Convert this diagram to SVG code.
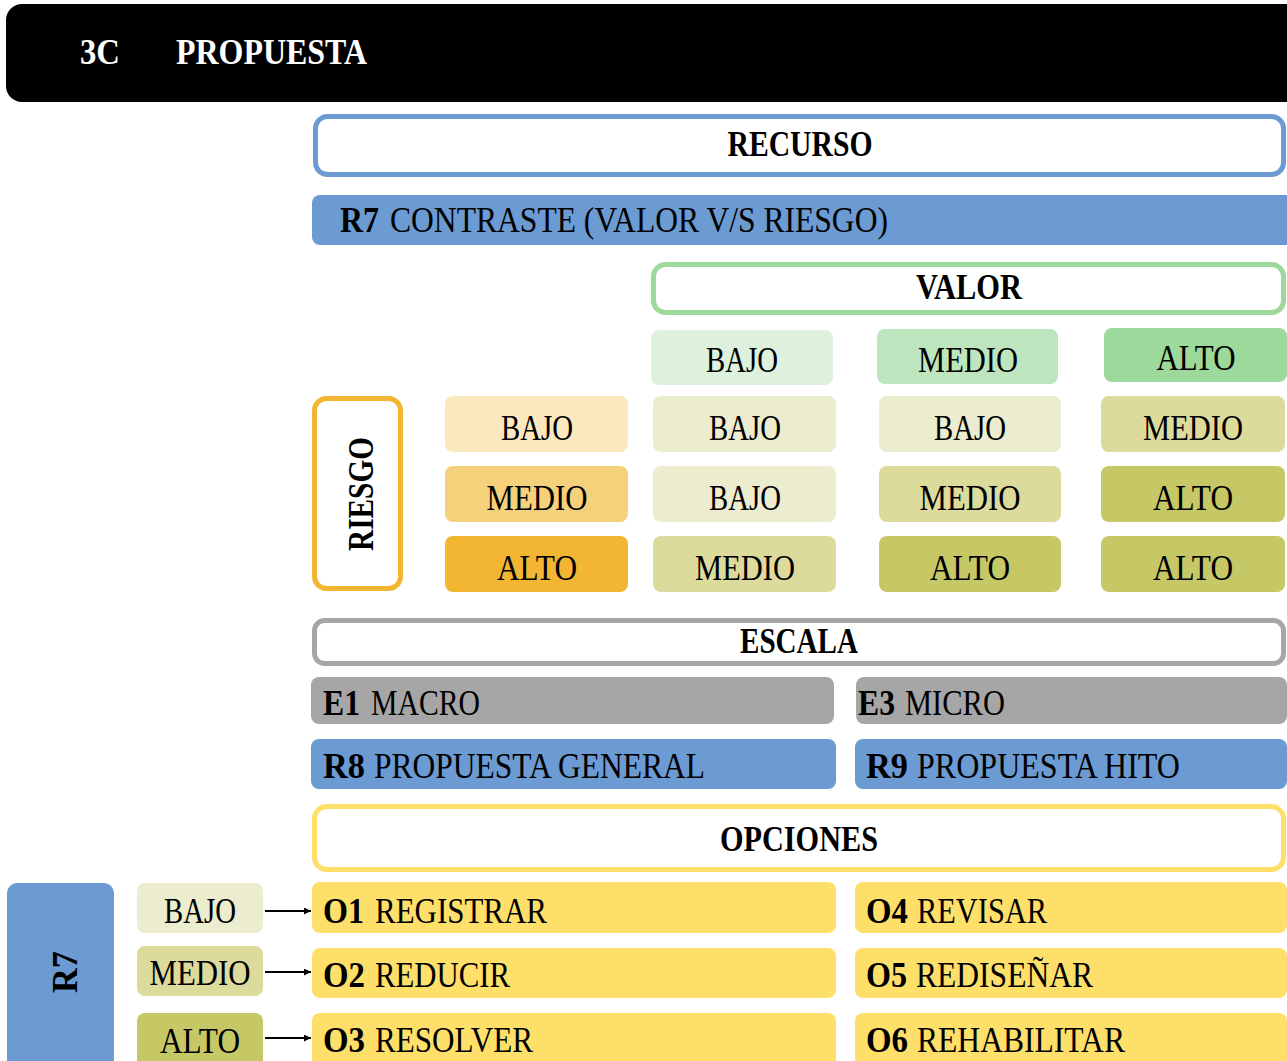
<svg xmlns="http://www.w3.org/2000/svg" width="1287" height="1061" viewBox="0 0 1287 1061">
<defs>
<style>
text{font-family:"Liberation Serif","Times New Roman",serif;font-size:35px;fill:#000}
.b{font-weight:bold}
.w{fill:#fff}
.c{text-anchor:middle}
.blue{fill:#6b9bd2}
.gray{fill:#a6a6a6}
.yel{fill:#fedf69}
.v1{fill:#ddf1dd}.v2{fill:#bde6be}.v3{fill:#9cd99a}
.r1{fill:#fce8be}.r2{fill:#f6d17b}.r3{fill:#f2b632}
.m1{fill:#ececce}.m2{fill:#dcdb9c}.m3{fill:#c6c866}
.out{fill:#fff;stroke-width:5}
</style>
<marker id="ah" viewBox="0 0 10 10" refX="10" refY="5" markerWidth="7" markerHeight="7" markerUnits="userSpaceOnUse" orient="auto"><path d="M0,0 L10,5 L0,10 z" fill="#000"/></marker>
</defs>
<rect width="1287" height="1061" fill="#fff"/>

<g id="header">
<rect x="6" y="4" width="1300" height="98" rx="16" fill="#000"/>
<text class="b w" x="80" y="64" textLength="40" lengthAdjust="spacingAndGlyphs">3C</text>
<text class="b w" x="176" y="64" textLength="191" lengthAdjust="spacingAndGlyphs">PROPUESTA</text>
</g>

<g id="recurso">
<rect class="out" x="315.5" y="116.5" width="968" height="58" rx="12" stroke="#6b9bd2"/>
<text class="b c" x="800" y="156" textLength="145" lengthAdjust="spacingAndGlyphs">RECURSO</text>
</g>

<g id="r7-contraste">
<rect class="blue" x="312" y="195" width="985" height="50" rx="8"/>
<text class="b" x="340" y="232" textLength="39" lengthAdjust="spacingAndGlyphs">R7</text>
<text x="390" y="232" textLength="498" lengthAdjust="spacingAndGlyphs">CONTRASTE (VALOR V/S RIESGO)</text>
</g>

<g id="valor">
<rect class="out" x="653.5" y="264.5" width="630" height="48" rx="12" stroke="#9cd99a"/>
<text class="b c" x="969" y="299" textLength="106" lengthAdjust="spacingAndGlyphs">VALOR</text>
</g>

<g id="valor-bajo"><rect class="v1" x="651" y="330" width="182" height="55" rx="8"/><text class="c" x="742" y="372" textLength="72" lengthAdjust="spacingAndGlyphs">BAJO</text></g>
<g id="valor-medio"><rect class="v2" x="877" y="329" width="181" height="55" rx="8"/><text class="c" x="968" y="372" textLength="100" lengthAdjust="spacingAndGlyphs">MEDIO</text></g>
<g id="valor-alto"><rect class="v3" x="1104" y="328" width="183" height="54" rx="8"/><text class="c" x="1196" y="370" textLength="79" lengthAdjust="spacingAndGlyphs">ALTO</text></g>

<g id="riesgo">
<rect class="out" x="314.5" y="398.5" width="86" height="190" rx="12" stroke="#f2b632"/>
<text class="b c" transform="translate(373,494) rotate(-90)" textLength="114" lengthAdjust="spacingAndGlyphs">RIESGO</text>
</g>

<g id="riesgo-bajo"><rect class="r1" x="445" y="396" width="183" height="56" rx="8"/><text class="c" x="537" y="440" textLength="72" lengthAdjust="spacingAndGlyphs">BAJO</text></g>
<g id="riesgo-medio"><rect class="r2" x="445" y="466" width="183" height="56" rx="8"/><text class="c" x="537" y="510" textLength="101" lengthAdjust="spacingAndGlyphs">MEDIO</text></g>
<g id="riesgo-alto"><rect class="r3" x="445" y="536" width="183" height="56" rx="8"/><text class="c" x="537" y="580" textLength="80" lengthAdjust="spacingAndGlyphs">ALTO</text></g>

<g id="m11"><rect class="m1" x="653" y="396" width="183" height="56" rx="8"/><text class="c" x="745" y="440" textLength="72" lengthAdjust="spacingAndGlyphs">BAJO</text></g>
<g id="m12"><rect class="m1" x="879" y="396" width="182" height="56" rx="8"/><text class="c" x="970" y="440" textLength="72" lengthAdjust="spacingAndGlyphs">BAJO</text></g>
<g id="m13"><rect class="m2" x="1101" y="396" width="184" height="56" rx="8"/><text class="c" x="1193" y="440" textLength="100" lengthAdjust="spacingAndGlyphs">MEDIO</text></g>
<g id="m21"><rect class="m1" x="653" y="466" width="183" height="56" rx="8"/><text class="c" x="745" y="510" textLength="72" lengthAdjust="spacingAndGlyphs">BAJO</text></g>
<g id="m22"><rect class="m2" x="879" y="466" width="182" height="56" rx="8"/><text class="c" x="970" y="510" textLength="101" lengthAdjust="spacingAndGlyphs">MEDIO</text></g>
<g id="m23"><rect class="m3" x="1101" y="466" width="184" height="56" rx="8"/><text class="c" x="1193" y="510" textLength="80" lengthAdjust="spacingAndGlyphs">ALTO</text></g>
<g id="m31"><rect class="m2" x="653" y="536" width="183" height="56" rx="8"/><text class="c" x="745" y="580" textLength="100" lengthAdjust="spacingAndGlyphs">MEDIO</text></g>
<g id="m32"><rect class="m3" x="879" y="536" width="182" height="56" rx="8"/><text class="c" x="970" y="580" textLength="80" lengthAdjust="spacingAndGlyphs">ALTO</text></g>
<g id="m33"><rect class="m3" x="1101" y="536" width="184" height="56" rx="8"/><text class="c" x="1193" y="580" textLength="80" lengthAdjust="spacingAndGlyphs">ALTO</text></g>

<g id="escala">
<rect class="out" x="314.5" y="620.5" width="969" height="43" rx="10" stroke="#a6a6a6"/>
<text class="b c" x="799" y="653" textLength="118" lengthAdjust="spacingAndGlyphs">ESCALA</text>
</g>

<g id="e1"><rect class="gray" x="311" y="677" width="523" height="47" rx="8"/>
<text class="b" x="323" y="715" textLength="37" lengthAdjust="spacingAndGlyphs">E1</text>
<text x="371" y="715" textLength="109" lengthAdjust="spacingAndGlyphs">MACRO</text></g>
<g id="e3"><rect class="gray" x="856" y="677" width="431" height="47" rx="8"/>
<text class="b" x="858" y="715" textLength="37" lengthAdjust="spacingAndGlyphs">E3</text>
<text x="905" y="715" textLength="100" lengthAdjust="spacingAndGlyphs">MICRO</text></g>
<g id="r8"><rect class="blue" x="311" y="739" width="525" height="50" rx="8"/>
<text class="b" x="323" y="778" textLength="42" lengthAdjust="spacingAndGlyphs">R8</text>
<text x="374" y="778" textLength="331" lengthAdjust="spacingAndGlyphs">PROPUESTA GENERAL</text></g>
<g id="r9"><rect class="blue" x="855" y="739" width="432" height="50" rx="8"/>
<text class="b" x="866" y="778" textLength="42" lengthAdjust="spacingAndGlyphs">R9</text>
<text x="917" y="778" textLength="263" lengthAdjust="spacingAndGlyphs">PROPUESTA HITO</text></g>

<g id="opciones">
<rect class="out" x="314.5" y="806.5" width="969" height="63" rx="12" stroke="#fedf69"/>
<text class="b c" x="799" y="851" textLength="158" lengthAdjust="spacingAndGlyphs">OPCIONES</text>
</g>

<g id="r7-side">
<rect class="blue" x="7" y="883" width="107" height="190" rx="10"/>
<text class="b c" transform="translate(77,972) rotate(-90)" textLength="42" lengthAdjust="spacingAndGlyphs">R7</text>
</g>

<g id="n-bajo"><rect class="m1" x="137" y="883" width="126" height="50" rx="8"/><text class="c" x="200" y="923" textLength="72" lengthAdjust="spacingAndGlyphs">BAJO</text></g>
<g id="n-medio"><rect class="m2" x="137" y="946" width="126" height="50" rx="8"/><text class="c" x="200" y="985" textLength="101" lengthAdjust="spacingAndGlyphs">MEDIO</text></g>
<g id="n-alto"><rect class="m3" x="137" y="1013" width="126" height="60" rx="8"/><text class="c" x="200" y="1053" textLength="80" lengthAdjust="spacingAndGlyphs">ALTO</text></g>

<g id="o1"><rect class="yel" x="312" y="882" width="524" height="51" rx="8"/>
<text class="b" x="323" y="923" textLength="41" lengthAdjust="spacingAndGlyphs">O1</text>
<text x="375" y="923" textLength="172" lengthAdjust="spacingAndGlyphs">REGISTRAR</text></g>
<g id="o2"><rect class="yel" x="312" y="948" width="524" height="50" rx="8"/>
<text class="b" x="323" y="987" textLength="42" lengthAdjust="spacingAndGlyphs">O2</text>
<text x="375" y="987" textLength="135" lengthAdjust="spacingAndGlyphs">REDUCIR</text></g>
<g id="o3"><rect class="yel" x="312" y="1013" width="524" height="60" rx="8"/>
<text class="b" x="323" y="1052" textLength="42" lengthAdjust="spacingAndGlyphs">O3</text>
<text x="375" y="1052" textLength="158" lengthAdjust="spacingAndGlyphs">RESOLVER</text></g>
<g id="o4"><rect class="yel" x="855" y="882" width="432" height="51" rx="8"/>
<text class="b" x="866" y="923" textLength="42" lengthAdjust="spacingAndGlyphs">O4</text>
<text x="917" y="923" textLength="130" lengthAdjust="spacingAndGlyphs">REVISAR</text></g>
<g id="o5"><rect class="yel" x="855" y="948" width="432" height="50" rx="8"/>
<text class="b" x="866" y="987" textLength="41" lengthAdjust="spacingAndGlyphs">O5</text>
<text x="916" y="987" textLength="177" lengthAdjust="spacingAndGlyphs">REDISEÑAR</text></g>
<g id="o6"><rect class="yel" x="855" y="1013" width="432" height="60" rx="8"/>
<text class="b" x="866" y="1052" textLength="42" lengthAdjust="spacingAndGlyphs">O6</text>
<text x="917" y="1052" textLength="208" lengthAdjust="spacingAndGlyphs">REHABILITAR</text></g>

<g id="connectors" stroke="#000" stroke-width="2" fill="none">
<line x1="265" y1="911" x2="311" y2="911" marker-end="url(#ah)"/>
<line x1="265" y1="972" x2="311" y2="972" marker-end="url(#ah)"/>
<line x1="265" y1="1038" x2="311" y2="1038" marker-end="url(#ah)"/>
</g>
</svg>
